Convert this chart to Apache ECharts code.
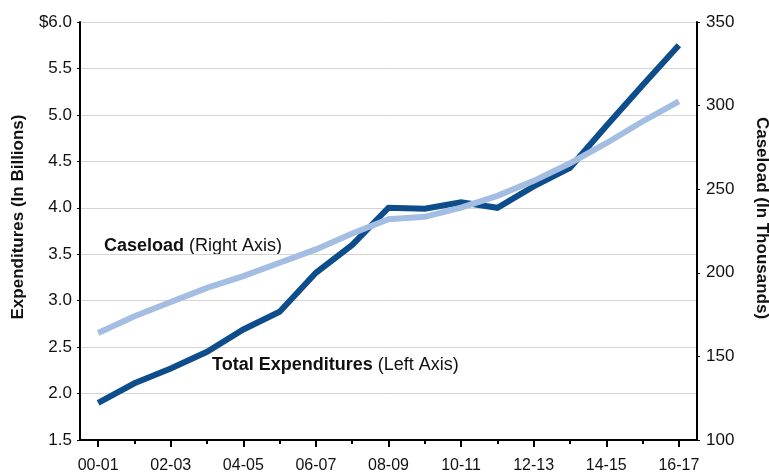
<!DOCTYPE html>
<html>
<head>
<meta charset="utf-8">
<script src="https://cdn.jsdelivr.net/npm/echarts@6/dist/echarts.min.js"></script>
<style>
html,body{margin:0;padding:0;background:#fff;}
#chart{width:769px;height:474px;}
</style>
</head>
<body>
<div id="chart"></div>
<script>
var categories = ['00-01','01-02','02-03','03-04','04-05','05-06','06-07','07-08','08-09','09-10','10-11','11-12','12-13','13-14','14-15','15-16','16-17'];
var expenditures = [1.90, 2.11, 2.27, 2.45, 2.69, 2.88, 3.30, 3.60, 4.00, 3.99, 4.06, 4.00, 4.23, 4.43, 4.88, 5.32, 5.75];
var caseload = [164, 174, 182.5, 191, 198, 206, 214, 223.5, 232, 233.5, 239, 246, 255, 265.5, 277.5, 290.5, 302.5];
var leftTicks = [1.5, 6.0, 0.5];   // min, max, interval
var rightTicks = [100, 350, 50];   // min, max, interval

var FONT = '"Liberation Sans", Arial, Helvetica, sans-serif';
var chart = echarts.init(document.getElementById('chart'), null, {renderer: 'canvas'});
chart.setOption({
  animation: false,
  backgroundColor: '#fff',
  grid: {left: 80, right: 72, top: 22, bottom: 33, containLabel: false},
  xAxis: [{
    type: 'category',
    data: categories,
    boundaryGap: true,
    position: 'bottom',
    axisLine: {show: true, lineStyle: {color: '#000', width: 2}},
    axisTick: {show: true, alignWithLabel: true, interval: 1, length: 7, lineStyle: {color: '#000', width: 2}},
    axisLabel: {interval: 1, margin: 18, color: '#111', fontSize: 16, fontFamily: FONT},
    splitLine: {show: false}
  }, {
    type: 'category',
    data: categories,
    boundaryGap: true,
    position: 'bottom',
    axisLine: {show: false},
    axisTick: {show: true, alignWithLabel: true, interval: 0, length: 4, lineStyle: {color: '#000', width: 2}},
    axisLabel: {show: false},
    splitLine: {show: false}
  }],
  yAxis: [{
    type: 'value',
    position: 'left',
    min: leftTicks[0], max: leftTicks[1], interval: leftTicks[2],
    axisLine: {show: true, lineStyle: {color: '#000', width: 2}},
    axisTick: {show: true, length: 3, lineStyle: {color: '#000', width: 1}},
    axisLabel: {margin: 8, color: '#111', fontSize: 17, fontFamily: FONT,
      formatter: function (v) { var s = v.toFixed(1); return v === leftTicks[1] ? '$' + s : s; }},
    splitLine: {show: true, lineStyle: {color: '#d4d4d4', width: 1}}
  }, {
    type: 'value',
    position: 'right',
    min: rightTicks[0], max: rightTicks[1], interval: rightTicks[2],
    axisLine: {show: true, lineStyle: {color: '#000', width: 2}},
    axisTick: {show: true, length: 3, lineStyle: {color: '#000', width: 1}},
    axisLabel: {margin: 9, color: '#111', fontSize: 17, fontFamily: FONT},
    splitLine: {show: false}
  }],
  series: [{
    name: 'Total Expenditures',
    type: 'line',
    xAxisIndex: 0, yAxisIndex: 0,
    data: expenditures,
    symbol: 'none',
    lineStyle: {color: '#0e4d8c', width: 6, cap: 'butt', join: 'miter'},
    z: 2
  }, {
    name: 'Caseload',
    type: 'line',
    xAxisIndex: 0, yAxisIndex: 1,
    data: caseload,
    symbol: 'none',
    lineStyle: {color: '#a4bee3', width: 6, cap: 'butt', join: 'miter'},
    z: 3
  }],
  graphic: [{
    type: 'text', x: 104, y: 246,
    style: {text: '{b|Caseload}{r|\u00a0(Right Axis)}', fill: '#111', verticalAlign: 'middle',
      rich: {b: {fontWeight: 'bold', fontSize: 18, fontFamily: FONT, fill: '#111'},
             r: {fontSize: 18, fontFamily: FONT, fill: '#111'}}}
  }, {
    type: 'text', x: 212, y: 365,
    style: {text: '{b|Total Expenditures}{r|\u00a0(Left Axis)}', fill: '#111', verticalAlign: 'middle',
      rich: {b: {fontWeight: 'bold', fontSize: 18, fontFamily: FONT, fill: '#111'},
             r: {fontSize: 18, fontFamily: FONT, fill: '#111'}}}
  }, {
    type: 'text', x: 18, y: 217, rotation: Math.PI / 2,
    style: {text: 'Expenditures (In Billions)', font: 'bold 17px ' + FONT, fill: '#111',
      align: 'center', verticalAlign: 'middle'}
  }, {
    type: 'text', x: 762, y: 218, rotation: -Math.PI / 2,
    style: {text: 'Caseload (In Thousands)', font: 'bold 17px ' + FONT, fill: '#111',
      align: 'center', verticalAlign: 'middle'}
  }]
});
</script>
</body>
</html>
